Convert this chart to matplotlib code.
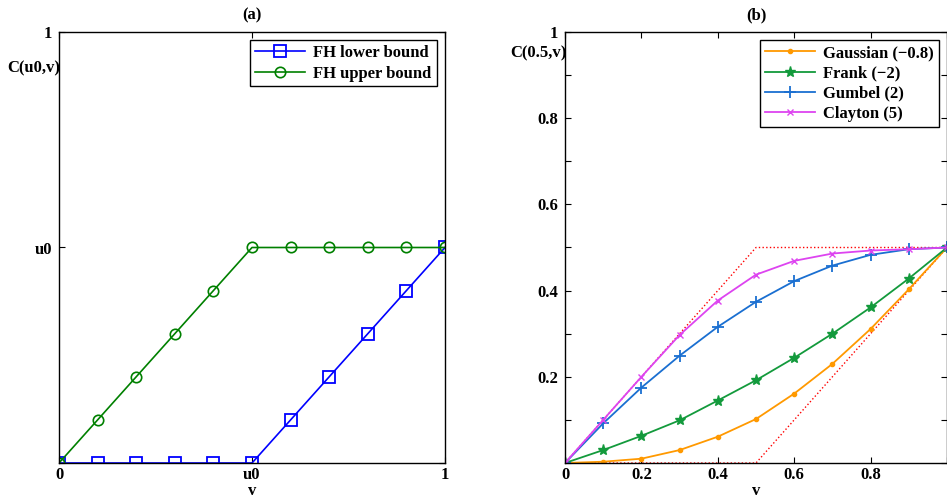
import numpy as np
import matplotlib
matplotlib.use('Agg')
import matplotlib.pyplot as plt

plt.rcParams['font.family'] = ['Liberation Serif', 'DejaVu Serif']
plt.rcParams['font.weight'] = 'bold'

# panel (a): Frechet-Hoeffding bounds for u0 = 0.5
v_a = [0, 0.1, 0.2, 0.3, 0.4, 0.5, 0.6, 0.7, 0.8, 0.9, 1.0]
fh_lower = [0, 0, 0, 0, 0, 0, 0.1, 0.2, 0.3, 0.4, 0.5]
fh_upper = [0, 0.1, 0.2, 0.3, 0.4, 0.5, 0.5, 0.5, 0.5, 0.5, 0.5]

# panel (b): C(0.5, v) for several copulas
v_b = [0, 0.1, 0.2, 0.3, 0.4, 0.5, 0.6, 0.7, 0.8, 0.9, 1.0]
gaussian = [0, 0.003, 0.010, 0.030, 0.061, 0.102, 0.161, 0.230, 0.311, 0.403, 0.5]
frank = [0, 0.030, 0.063, 0.099, 0.145, 0.192, 0.244, 0.300, 0.361, 0.428, 0.5]
gumbel = [0, 0.092, 0.175, 0.249, 0.316, 0.374, 0.422, 0.458, 0.483, 0.496, 0.5]
clayton = [0, 0.100, 0.200, 0.297, 0.377, 0.437, 0.469, 0.486, 0.493, 0.496, 0.5]
fh_v = [0, 0.5, 1.0]
fh_lo_b = [0, 0, 0.5]
fh_up_b = [0, 0.5, 0.5]

fig = plt.figure(figsize=(9.47, 4.98), dpi=100)
W, H = 947.0, 498.0
ax1 = fig.add_axes([59 / W, 1 - 463 / H, (445 - 59) / W, (463 - 32) / H])
ax2 = fig.add_axes([565 / W, 1 - 463 / H, (947 - 565) / W, (463 - 32) / H])

fs = 12

# ---- (a)
ax1.plot(v_a, fh_lower, color='blue', marker='s', markersize=9, markerfacecolor='none',
         markeredgewidth=1.3, lw=1.2, label='FH lower bound')
ax1.plot(v_a, fh_upper, color='green', marker='o', markersize=7.5, markerfacecolor='none',
         markeredgewidth=1.2, lw=1.2, label='FH upper bound')
ax1.set_xlim(0, 1)
ax1.set_ylim(0, 1)
ax1.set_xticks([0, 0.5, 1])
ax1.set_xticklabels(['0', 'u0', '1'])
ax1.set_yticks([0, 0.5, 1])
ax1.set_yticklabels(['', 'u0', '1'])
ax1.set_title('(a)', fontsize=fs, fontweight='bold', pad=9)
ax1.set_xlabel('v', fontsize=fs, fontweight='bold')
ax1.set_ylabel('C(u0,v)', fontsize=fs, fontweight='bold', rotation=0, ha='right', va='center')
ax1.yaxis.set_label_coords(0.003, 0.916)
ax1.legend(loc='upper right', fontsize=fs, frameon=True, fancybox=False, edgecolor='black',
           borderaxespad=0.5, handlelength=3, borderpad=0.3, labelspacing=0.25, framealpha=1,
           handletextpad=0.5)

# ---- (b)
ax2.plot(fh_v, fh_lo_b, color='red', ls=':', lw=1)
ax2.plot(fh_v, fh_up_b, color='red', ls=':', lw=1)
ax2.plot(v_b, gaussian, color='#ff9900', marker='.', markersize=6, lw=1.3, label='Gaussian (\u22120.8)')
ax2.plot(v_b, frank, color='#139a3c', marker='*', markersize=8, lw=1.3, label='Frank (\u22122)')
ax2.plot(v_b, gumbel, color='#1a6fd1', marker='+', markersize=9, markeredgewidth=1.3, lw=1.3, label='Gumbel (2)')
ax2.plot(v_b, clayton, color='#dd44f0', marker='x', markersize=4.5, lw=1.3, label='Clayton (5)')
ax2.set_xlim(0, 1)
ax2.set_ylim(0, 1)
ax2.set_xticks([0, 0.2, 0.4, 0.6, 0.8, 1.0])
ax2.set_xticklabels(['0', '0.2', '0.4', '0.6', '0.8', ''])
ax2.set_yticks(np.arange(0, 1.01, 0.1))
ax2.set_yticklabels(['', '', '0.2', '', '0.4', '', '0.6', '', '0.8', '', '1'])
ax2.set_title('(b)', fontsize=fs, fontweight='bold', pad=9)
ax2.set_xlabel('v', fontsize=fs, fontweight='bold')
ax2.set_ylabel('C(0.5,v)', fontsize=fs, fontweight='bold', rotation=0, ha='right', va='center')
ax2.yaxis.set_label_coords(0.003, 0.951)
ax2.legend(loc='upper right', fontsize=fs, frameon=True, fancybox=False, edgecolor='black',
           borderaxespad=0.5, handlelength=3, borderpad=0.3, labelspacing=0.25, framealpha=1,
           handletextpad=0.5)

for ax in (ax1, ax2):
    ax.tick_params(direction='in', top=True, right=True, length=4, labelsize=fs, pad=5)
    ax.tick_params(axis='x', pad=3)
    for lab in ax.get_xticklabels() + ax.get_yticklabels():
        lab.set_fontweight('bold')
    for s in ax.spines.values():
        s.set_linewidth(1)
    ax.xaxis.labelpad = 0

fig.savefig('out.png', dpi=100)
